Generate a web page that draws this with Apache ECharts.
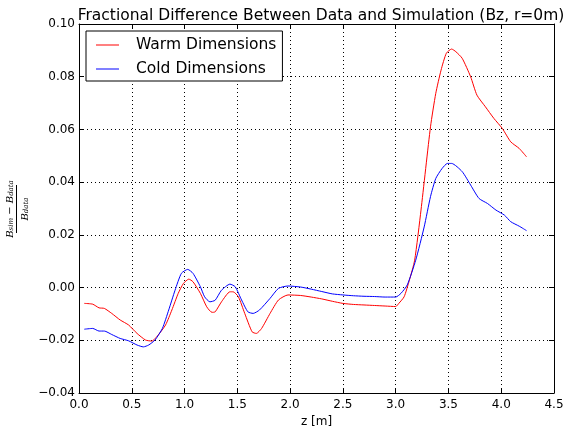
<!DOCTYPE html>
<html>
<head>
<meta charset="utf-8">
<script src="https://cdn.jsdelivr.net/npm/echarts@6/dist/echarts.min.js"></script>
<style>
  html, body { margin: 0; padding: 0; background: #fff; }
  #main { width: 568px; height: 428px; }
</style>
</head>
<body>
<div id="main"></div>
<script>
// 读图得到的数据
const warmZ = [0.05, 0.13, 0.19, 0.24, 0.31, 0.39, 0.47, 0.55, 0.63, 0.69, 0.75, 0.82, 0.88, 0.94, 0.99, 1.04, 1.08, 1.15, 1.21, 1.26, 1.29, 1.35, 1.43, 1.46, 1.51, 1.57, 1.64, 1.68, 1.73, 1.81, 1.89, 1.98, 2.1, 2.2, 2.3, 2.4, 2.5, 2.6, 2.7, 2.8, 2.9, 3.0, 3.03, 3.08, 3.13, 3.18, 3.24, 3.33, 3.38, 3.43, 3.48, 3.53, 3.57, 3.63, 3.71, 3.77, 3.85, 3.93, 4.01, 4.09, 4.17, 4.24];
const warmVals = [-0.006, -0.0063, -0.0077, -0.0079, -0.0098, -0.0123, -0.0142, -0.0174, -0.0199, -0.0203, -0.018, -0.0142, -0.0085, -0.0022, 0.0016, 0.0032, 0.0022, -0.0022, -0.0073, -0.0094, -0.0092, -0.0054, -0.0016, -0.0016, -0.0035, -0.0098, -0.0168, -0.0174, -0.0155, -0.0098, -0.0047, -0.0028, -0.003, -0.0036, -0.0043, -0.0052, -0.006, -0.0064, -0.0066, -0.0068, -0.007, -0.0072, -0.006, -0.0035, 0.0028, 0.0104, 0.0294, 0.061, 0.0737, 0.0825, 0.0889, 0.0905, 0.0895, 0.087, 0.080, 0.073, 0.0686, 0.0642, 0.0604, 0.0553, 0.0528, 0.0496];

const coldZ = [0.05, 0.13, 0.19, 0.24, 0.31, 0.39, 0.47, 0.55, 0.61, 0.66, 0.72, 0.79, 0.85, 0.91, 0.97, 1.03, 1.08, 1.15, 1.19, 1.24, 1.29, 1.35, 1.43, 1.48, 1.54, 1.60, 1.65, 1.71, 1.81, 1.89, 1.98, 2.1, 2.2, 2.3, 2.4, 2.5, 2.6, 2.7, 2.8, 2.9, 3.0, 3.05, 3.11, 3.19, 3.27, 3.33, 3.38, 3.44, 3.49, 3.53, 3.63, 3.71, 3.79, 3.87, 3.95, 4.03, 4.09, 4.17, 4.24];
const coldVals = [-0.0158, -0.0155, -0.0165, -0.0165, -0.0178, -0.0193, -0.0202, -0.0218, -0.0225, -0.0218, -0.0199, -0.0155, -0.0085, -0.001, 0.0054, 0.0069, 0.0054, 0.0003, -0.0035, -0.0054, -0.0048, -0.001, 0.0013, 0.0003, -0.0047, -0.0092, -0.0098, -0.0085, -0.0041, -0.0003, 0.0006, 0.0002, -0.0006, -0.0015, -0.0024, -0.0028, -0.0031, -0.0033, -0.0034, -0.0036, -0.0036, -0.0022, 0.001, 0.0104, 0.023, 0.0345, 0.0414, 0.0452, 0.0471, 0.0471, 0.044, 0.0389, 0.0338, 0.0319, 0.0294, 0.0275, 0.025, 0.0233, 0.0216];

const seriesNames = ['Warm Dimensions', 'Cold Dimensions'];
const titleText = 'Fractional Difference Between Data and Simulation (Bz, r=0m)';

const font = 'DejaVu Sans';
const minus = (s) => s.replace('-', '\u2212');

const chart = echarts.init(document.getElementById('main'));

const axisCommon = {
  axisLine: { show: true, onZero: false, lineStyle: { color: '#000', width: 1 } },
  axisTick: { show: true, inside: true, length: 5, lineStyle: { color: '#000' } }
};

const fracRich = {
  b: { fontFamily: 'DejaVu Serif', fontStyle: 'italic', fontSize: 10, lineHeight: 12, verticalAlign: 'bottom', fill: '#000' },
  s: { fontFamily: 'DejaVu Serif', fontStyle: 'italic', fontSize: 7, lineHeight: 9, verticalAlign: 'bottom', fill: '#000' }
};

chart.setOption({
  animation: false,
  backgroundColor: '#fff',
  title: {
    text: titleText,
    left: 316, top: 3, textAlign: 'center',
    textStyle: { fontFamily: font, fontSize: 15.5, fontWeight: 'normal', color: '#000' }
  },
  grid: { left: 79, right: 14, top: 24, bottom: 35, outerBoundsMode: 'none' },
  legend: {
    orient: 'vertical',
    left: 86, top: 31,
    padding: [6, 6, 4, 10],
    itemGap: 8,
    itemWidth: 23,
    itemHeight: 1,
    icon: 'rect',
    backgroundColor: '#fff',
    borderColor: '#000', borderWidth: 1,
    textStyle: { fontFamily: font, fontSize: 15.5, lineHeight: 16, color: '#000', padding: [0, 0, 0, 12] },
    data: seriesNames
  },
  xAxis: [{
    ...axisCommon,
    type: 'value', min: 0, max: 4.5, interval: 0.5,
    name: 'z [m]', nameLocation: 'middle', nameGap: 23,
    nameTextStyle: { fontFamily: font, fontSize: 12, color: '#000' },
    axisLabel: { fontFamily: font, fontSize: 12, color: '#000', margin: 6, formatter: (v) => minus(v.toFixed(1)) },
    splitLine: { show: true, lineStyle: { color: '#000', type: [1, 3], width: 1 } }
  }, {
    ...axisCommon,
    type: 'value', min: 0, max: 4.5, interval: 0.5, position: 'top',
    axisLabel: { show: false }, splitLine: { show: false }
  }],
  yAxis: [{
    ...axisCommon,
    type: 'value', min: -0.04, max: 0.10, interval: 0.02,
    axisLabel: { fontFamily: font, fontSize: 12, color: '#000', margin: 4, formatter: (v) => minus(v.toFixed(2)) },
    splitLine: { show: true, lineStyle: { color: '#000', type: [1, 3], width: 1 } }
  }, {
    ...axisCommon,
    type: 'value', min: -0.04, max: 0.10, interval: 0.02, position: 'right',
    axisLabel: { show: false }, splitLine: { show: false }
  }],
  graphic: [{
    // y轴标签：分式
    type: 'group', x: 18, y: 209, rotation: Math.PI / 2,
    children: [{
      type: 'text', x: 0, y: -3,
      style: { text: '{b|B}{s|sim}{b| \u2212 B}{s|data}', align: 'center', verticalAlign: 'bottom', rich: fracRich }
    }, {
      type: 'line', shape: { x1: -24, y1: -1.5, x2: 24, y2: -1.5 },
      style: { stroke: '#000', lineWidth: 1 }
    }, {
      type: 'text', x: 0, y: 0,
      style: { text: '{b|B}{s|data}', align: 'center', verticalAlign: 'top', rich: fracRich }
    }]
  }],
  series: [{
    name: seriesNames[0],
    type: 'line',
    symbol: 'none',
    smooth: 0.2,
    color: '#ff0000',
    lineStyle: { color: '#ff0000', width: 1 },
    data: warmZ.map((z, i) => [z, warmVals[i]])
  }, {
    name: seriesNames[1],
    type: 'line',
    symbol: 'none',
    smooth: 0.2,
    color: '#0000ff',
    lineStyle: { color: '#0000ff', width: 1 },
    data: coldZ.map((z, i) => [z, coldVals[i]])
  }]
});
</script>
</body>
</html>
